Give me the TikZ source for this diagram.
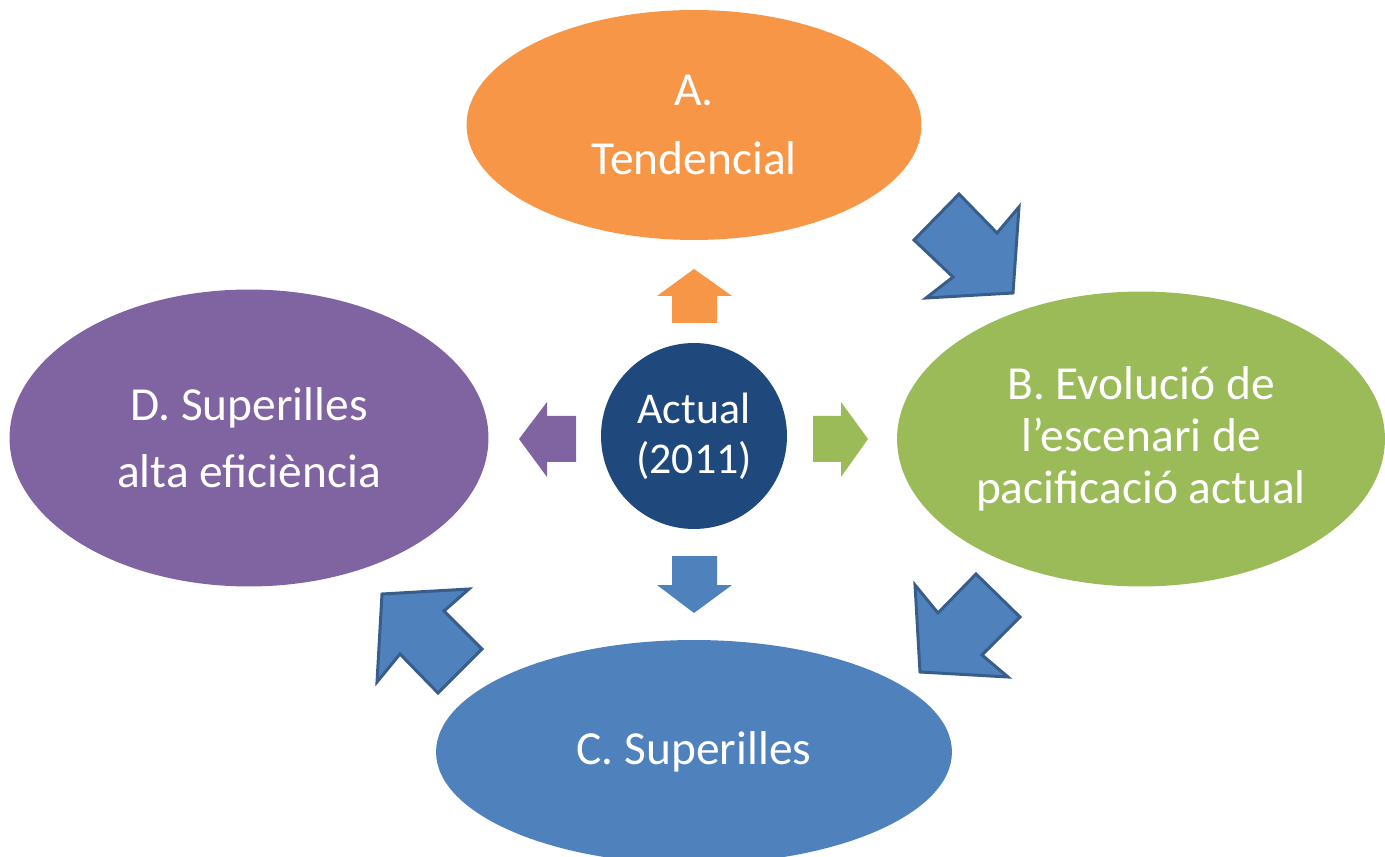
\documentclass[tikz,border=0pt]{standalone}
\usepackage{fontspec}
\setmainfont{Carlito}
\usepackage{tikz}
\usetikzlibrary{positioning}
\usetikzlibrary{shapes.geometric}
\definecolor{orA}{HTML}{F79646}
\definecolor{grB}{HTML}{9BBB59}
\definecolor{blC}{HTML}{4F81BD}
\definecolor{vlD}{HTML}{8064A2}
\definecolor{navy}{HTML}{1F497D}
\definecolor{edgeC}{HTML}{385D8A}
\tikzset{scen/.style={ellipse, inner sep=0pt, text=white, align=center, font=\fontsize{27}{29.5}\selectfont}}
\tikzset{bigarr/.style={fill=blC, draw=edgeC, line width=1.7pt, line join=miter}}

\begin{document}
\begin{tikzpicture}[x=0.02cm, y=-0.02cm]
\useasboundingbox (0,0) rectangle (1385,857);
\node[scen, fill=orA, minimum width=9.1cm, minimum height=4.6cm] (a) at (694,125) {A.\\[10.2pt]Tendencial};
\node[scen, fill=grB, minimum width=9.76cm, minimum height=5.9cm] (b) at (1141,439) {B. Evolució de\\l’escenari de\\pacificació actual};
\node[scen, fill=blC, minimum width=10.32cm, minimum height=4.48cm] (c) at (694,752) {C. Superilles};
\node[scen, fill=vlD, minimum width=9.58cm, minimum height=5.94cm] (d) at (249,438) {D. Superilles\\[8.5pt]alta eficiència};
\node[circle, fill=navy, minimum size=3.72cm, inner sep=0pt, text=white, align=center, font=\fontsize{25}{28.4}\selectfont] (act) at (694,436) {Actual\\(2011)};

% small arrows round the centre
\fill[orA] (657,296) -- (694,269) -- (732,296) -- (717,296) -- (717,323) -- (672,323) -- (672,296) -- cycle;
\fill[grB] (813,416) -- (841,416) -- (841,402) -- (868,439) -- (841,477) -- (841,462) -- (813,462) -- cycle;
\fill[blC] (672,556) -- (717,556) -- (717,585) -- (732,585) -- (694,613) -- (657,585) -- (672,585) -- cycle;
\fill[vlD] (576,416) -- (547,416) -- (547,402) -- (519,439) -- (547,477) -- (547,462) -- (576,462) -- cycle;

% cycle arrows
\draw[bigarr] (914,240) -- (959,194) -- (997,233) -- (1019,207) -- (1013,293) -- (926,298) -- (953,277) -- cycle;
\draw[bigarr] (915,585) -- (938,613) -- (976,574) -- (1020,617) -- (982,655) -- (1008,677) -- (920,672) -- cycle;
\draw[bigarr] (469,589) -- (444,611) -- (482,649) -- (438,693) -- (400,654) -- (377,682) -- (382,594) -- cycle;
\end{tikzpicture}
\end{document}
